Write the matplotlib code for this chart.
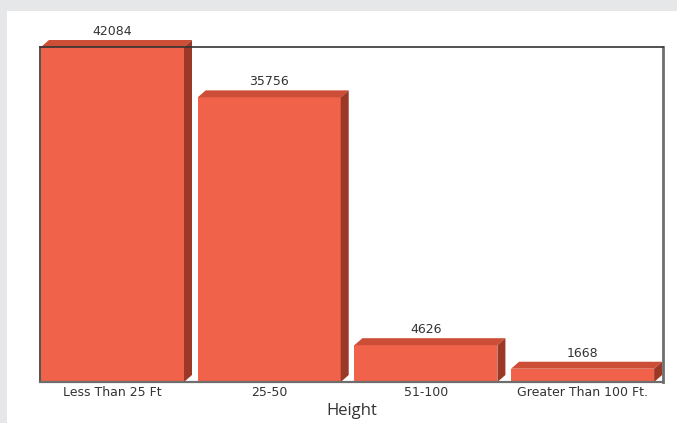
import matplotlib
matplotlib.use("Agg")
import matplotlib.pyplot as plt
from matplotlib.patches import Polygon, Rectangle

# --- dati ---
categorie = ["Less Than 25 Ft", "25-50", "51-100", "Greater Than 100 Ft."]
valori = [42084, 35756, 4626, 1668]

# --- stile ---
COL_FRONTE = "#f0634a"
COL_TOP = "#cd4e37"
COL_LATO = "#9c3826"
COL_TESTO = "#333333"

W, H = 677, 423
fig = plt.figure(figsize=(W / 100, H / 100), dpi=100, facecolor="#e6e7e9")

# pannello bianco (sotto agli assi)
fig.patches.append(Rectangle((7 / W, 0), 1, 1 - 11 / H, transform=fig.transFigure,
                             facecolor="white", edgecolor="none", zorder=-10))

# area del grafico in pixel
L, R, T, B = 40, 663, 47, 382
SLOT = 156.7  # larghezza di ogni categoria in pixel
ax = fig.add_axes([L / W, 1 - B / H, (R - L) / W, (B - T) / H])
ax.set_facecolor("white")

n = len(categorie)
ax.set_xlim(0, (R - L) / SLOT)
ax.set_ylim(0, max(valori))

# conversione pixel -> unita' dati
ux = 1 / SLOT
uy = max(valori) / (B - T)
dx, dy = 8 * ux, 7 * uy
larg = 143 * ux
off = 1 * ux

for i, v in enumerate(valori):
    x0 = i + off
    x1 = x0 + larg
    fronte = Polygon([(x0, 0), (x1, 0), (x1, v), (x0, v)], closed=True,
                     facecolor=COL_FRONTE, edgecolor="none", zorder=3, clip_on=False)
    top = Polygon([(x0, v), (x0 + dx, v + dy), (x1 + dx, v + dy), (x1, v)], closed=True,
                  facecolor=COL_TOP, edgecolor="none", zorder=3, clip_on=False)
    lato = Polygon([(x1, 0), (x1, v), (x1 + dx, v + dy), (x1 + dx, dy)], closed=True,
                   facecolor=COL_LATO, edgecolor="none", zorder=3, clip_on=False)
    for p in (fronte, top, lato):
        ax.add_patch(p)
    ax.text((x0 + x1) / 2, v + dy + 5 * uy, f"{v}", ha="center", va="baseline",
            fontsize=9, color=COL_TESTO, family="DejaVu Sans", zorder=5, clip_on=False)

ax.set_xticks([i + off + larg / 2 for i in range(n)])
ax.set_xticklabels(categorie, fontsize=9, color=COL_TESTO, family="DejaVu Sans")
ax.tick_params(axis="x", length=0, pad=3)
ax.set_yticks([])

for lato_ax, col, lw in (("left", "#333333", 1.2), ("top", "#333333", 1.2),
                         ("right", "#6e6e6e", 2.0), ("bottom", "#6e6e6e", 1.6)):
    ax.spines[lato_ax].set_color(col)
    ax.spines[lato_ax].set_linewidth(lw)
    ax.spines[lato_ax].set_zorder(6)

ax.set_xlabel("Height", fontsize=12, color=COL_TESTO, family="Open Sans", labelpad=3)

fig.savefig("out.png", dpi=100, facecolor=fig.get_facecolor())
